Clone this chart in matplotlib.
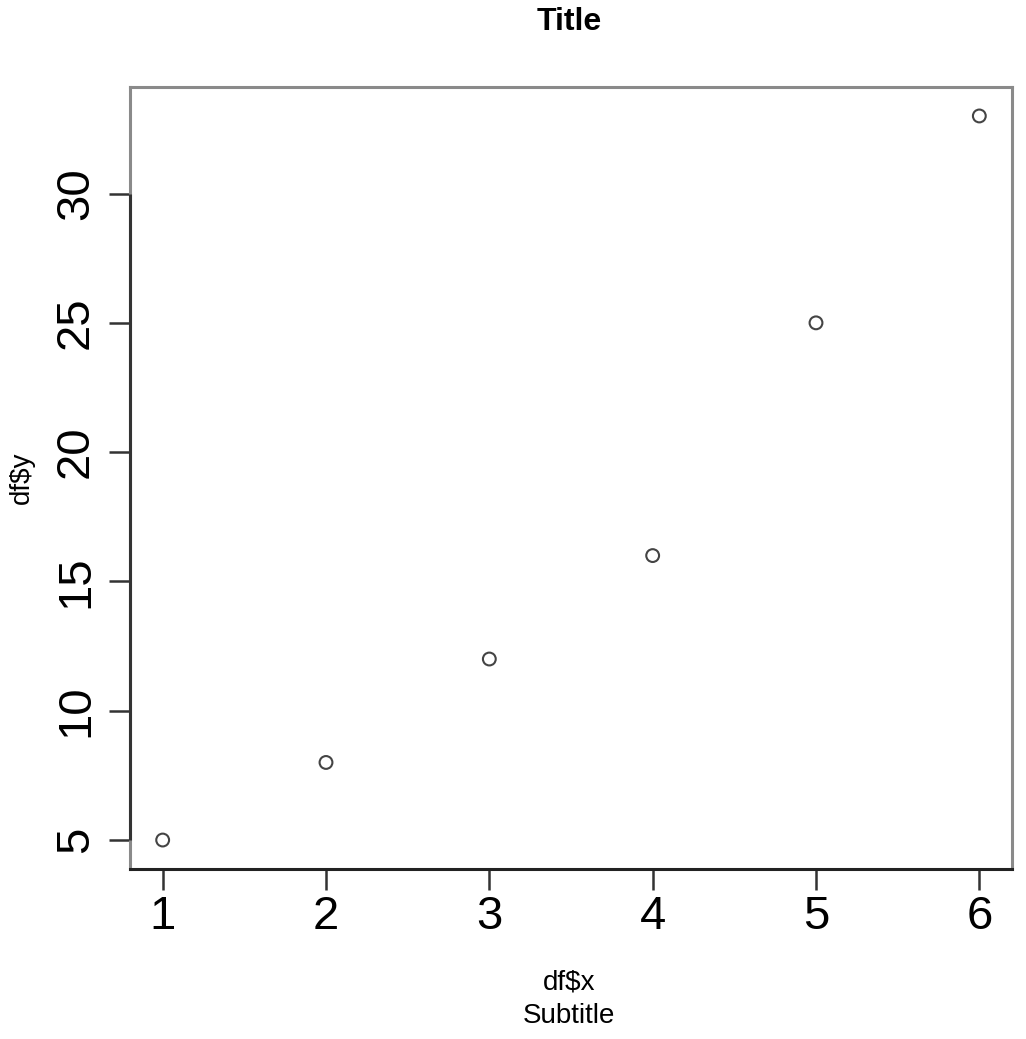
import matplotlib
matplotlib.use("Agg")
import matplotlib.pyplot as plt

x = [1, 2, 3, 4, 5, 6]
y = [5, 8, 12, 16, 25, 33]
xticks = [1, 2, 3, 4, 5, 6]
yticks = [5, 10, 15, 20, 25, 30]

plt.rcParams['font.family'] = ['Liberation Sans', 'DejaVu Sans']

fig = plt.figure(figsize=(10.26, 10.39), dpi=100)
ax = fig.add_axes([130/1026, 1-869/1039, (1012-130)/1026, (869-87)/1039])

ax.scatter(x, y, s=85, facecolors='none', edgecolors='#444444', linewidths=1.5, zorder=3)

xr = max(x) - min(x)
yr = max(y) - min(y)
ax.set_xlim(min(x) - 0.04*xr, max(x) + 0.04*xr)
ax.set_ylim(min(y) - 0.04*yr, max(y) + 0.04*yr)

for s in ax.spines.values():
    s.set_color('#8a8a8a')
    s.set_linewidth(2.2)
ax.spines['bottom'].set_color('#222222')
# axis line along the tick range on the left
ax.plot([0, 0], [min(yticks), max(yticks)], color='#333333', lw=2.2,
        transform=ax.get_yaxis_transform(), clip_on=False, zorder=4, solid_capstyle='butt')

ax.set_xticks(xticks)
ax.set_yticks(yticks)
ax.tick_params(axis='both', direction='out', length=15, width=1.8, color='#333333', labelsize=34)
ax.tick_params(axis='x', pad=4)
ax.tick_params(axis='y', pad=8)
for lab in ax.get_yticklabels():
    lab.set_rotation(90)
    lab.set_va('center')

fig.text(0.555, 1-22/1039, 'Title', ha='center', va='center', fontsize=23, fontweight='bold')
fig.text(0.555, 1-982/1039, 'df$x', ha='center', va='center', fontsize=20)
fig.text(0.555, 1-1016/1039, 'Subtitle', ha='center', va='center', fontsize=20)
fig.text(22/1026, 1-478/1039, 'df$y', ha='center', va='center', fontsize=20, rotation=90)

fig.savefig('out.png', dpi=100)
